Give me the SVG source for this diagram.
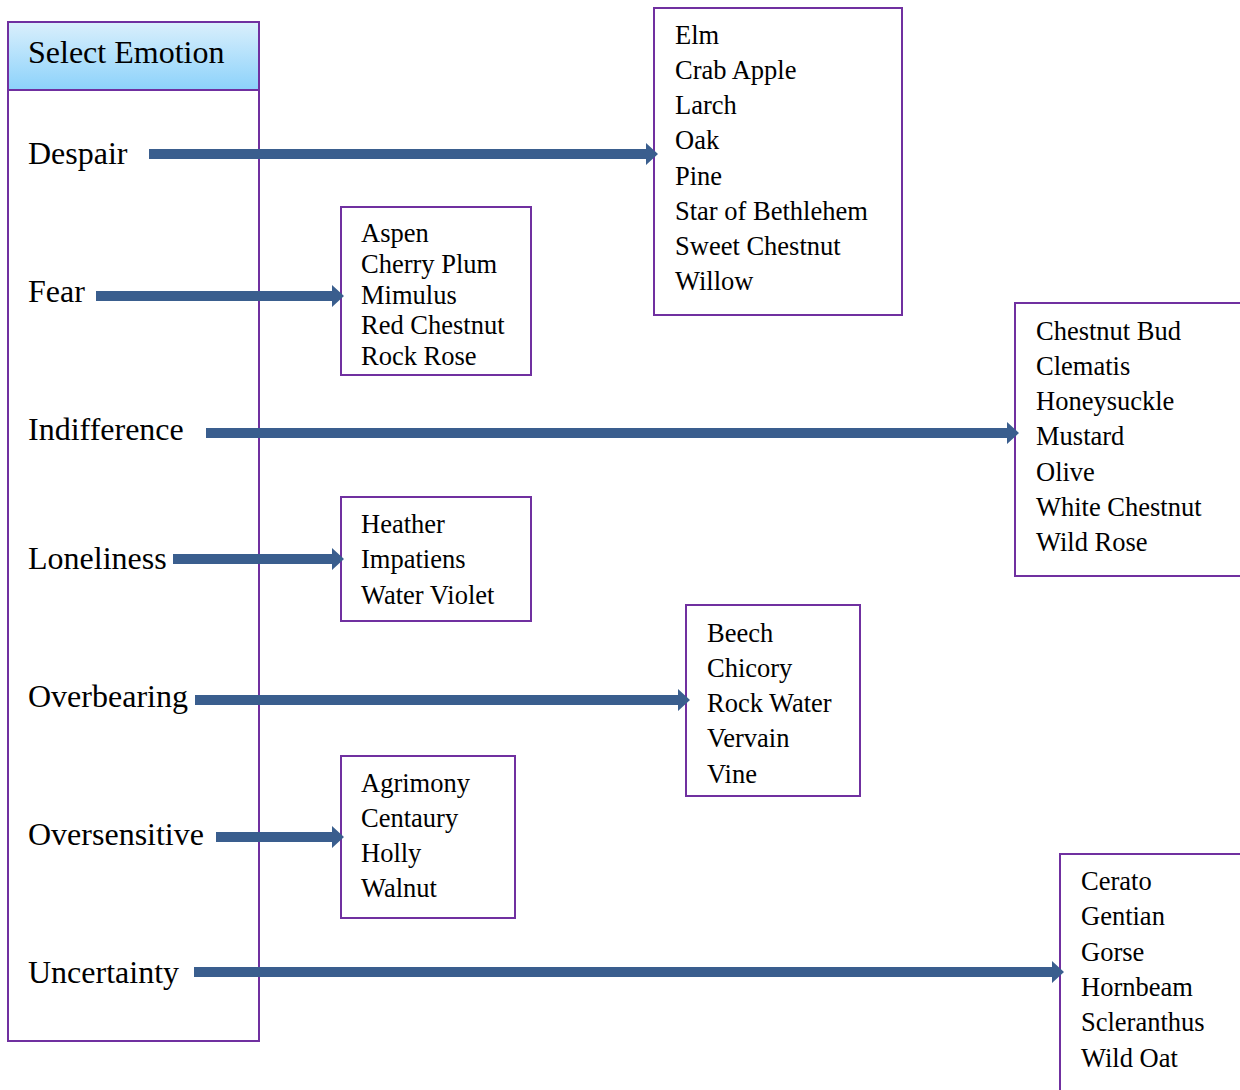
<svg xmlns="http://www.w3.org/2000/svg" width="1240" height="1090" viewBox="0 0 1240 1090">
<defs>
<linearGradient id="hdr" x1="0" y1="0" x2="0" y2="1">
<stop offset="0" stop-color="#d9effc"/>
<stop offset="1" stop-color="#8cd2fb"/>
</linearGradient>
<style>
.box{fill:#ffffff;stroke:#7030a0;stroke-width:2}
.emo{font-family:"Liberation Serif","Times New Roman",serif;font-size:32px;fill:#000}
.item{font-family:"Liberation Serif","Times New Roman",serif;font-size:26.5px;fill:#000}
.arr{fill:#3a5e8e}
</style>
</defs>
<rect width="1240" height="1090" fill="#ffffff"/>

<g id="emotions">
<rect class="box" x="8" y="22" width="251" height="1019"/>
<rect x="9" y="23" width="249" height="67" fill="url(#hdr)"/>
<line x1="8" y1="90" x2="259" y2="90" stroke="#7030a0" stroke-width="2"/>
<text class="emo" x="28" y="63">Select Emotion</text>
<text class="emo" x="28" y="164">Despair</text>
<text class="emo" x="28" y="302">Fear</text>
<text class="emo" x="28" y="440">Indifference</text>
<text class="emo" x="28" y="569">Loneliness</text>
<text class="emo" x="28" y="707">Overbearing</text>
<text class="emo" x="28" y="845">Oversensitive</text>
<text class="emo" x="28" y="983">Uncertainty</text>
</g>

<g id="despair-remedies">
<rect class="box" x="654" y="8" width="248" height="307"/>
<text class="item" x="675" y="43.5">Elm</text>
<text class="item" x="675" y="78.5">Crab Apple</text>
<text class="item" x="675" y="114">Larch</text>
<text class="item" x="675" y="149">Oak</text>
<text class="item" x="675" y="184.5">Pine</text>
<text class="item" x="675" y="219.5">Star of Bethlehem</text>
<text class="item" x="675" y="255">Sweet Chestnut</text>
<text class="item" x="675" y="290">Willow</text>
</g>

<g id="fear-remedies">
<rect class="box" x="341" y="207" width="190" height="168"/>
<text class="item" x="361" y="241.5">Aspen</text>
<text class="item" x="361" y="272.5">Cherry Plum</text>
<text class="item" x="361" y="303.5">Mimulus</text>
<text class="item" x="361" y="334">Red Chestnut</text>
<text class="item" x="361" y="364.5">Rock Rose</text>
</g>

<g id="indifference-remedies">
<rect class="box" x="1015" y="303" width="240" height="273"/>
<text class="item" x="1036" y="339.5">Chestnut Bud</text>
<text class="item" x="1036" y="374.5">Clematis</text>
<text class="item" x="1036" y="410">Honeysuckle</text>
<text class="item" x="1036" y="445">Mustard</text>
<text class="item" x="1036" y="480.5">Olive</text>
<text class="item" x="1036" y="515.5">White Chestnut</text>
<text class="item" x="1036" y="551">Wild Rose</text>
</g>

<g id="loneliness-remedies">
<rect class="box" x="341" y="497" width="190" height="124"/>
<text class="item" x="361" y="532.5">Heather</text>
<text class="item" x="361" y="568">Impatiens</text>
<text class="item" x="361" y="603.5">Water Violet</text>
</g>

<g id="overbearing-remedies">
<rect class="box" x="686" y="605" width="174" height="191"/>
<text class="item" x="707" y="641.5">Beech</text>
<text class="item" x="707" y="676.5">Chicory</text>
<text class="item" x="707" y="712">Rock Water</text>
<text class="item" x="707" y="747">Vervain</text>
<text class="item" x="707" y="782.5">Vine</text>
</g>

<g id="oversensitive-remedies">
<rect class="box" x="341" y="756" width="174" height="162"/>
<text class="item" x="361" y="791.5">Agrimony</text>
<text class="item" x="361" y="826.5">Centaury</text>
<text class="item" x="361" y="862">Holly</text>
<text class="item" x="361" y="897">Walnut</text>
</g>

<g id="uncertainty-remedies">
<rect class="box" x="1060" y="854" width="200" height="260"/>
<text class="item" x="1081" y="889.5">Cerato</text>
<text class="item" x="1081" y="925">Gentian</text>
<text class="item" x="1081" y="960.5">Gorse</text>
<text class="item" x="1081" y="995.5">Hornbeam</text>
<text class="item" x="1081" y="1031">Scleranthus</text>
<text class="item" x="1081" y="1066.5">Wild Oat</text>
</g>

<g id="connectors">
<path class="arr" d="M149 149 H646 V143 L658 154 L646 165 V159 H149 Z"/>
<path class="arr" d="M96 291 H332 V285 L344 296 L332 307 V301 H96 Z"/>
<path class="arr" d="M206 428 H1007 V422 L1019 433 L1007 444 V438 H206 Z"/>
<path class="arr" d="M173 554 H332 V548 L344 559 L332 570 V564 H173 Z"/>
<path class="arr" d="M195 695 H678 V689 L690 700 L678 711 V705 H195 Z"/>
<path class="arr" d="M216 832 H332 V826 L344 837 L332 848 V842 H216 Z"/>
<path class="arr" d="M194 967 H1052 V961 L1064 972 L1052 983 V977 H194 Z"/>
</g>
</svg>
